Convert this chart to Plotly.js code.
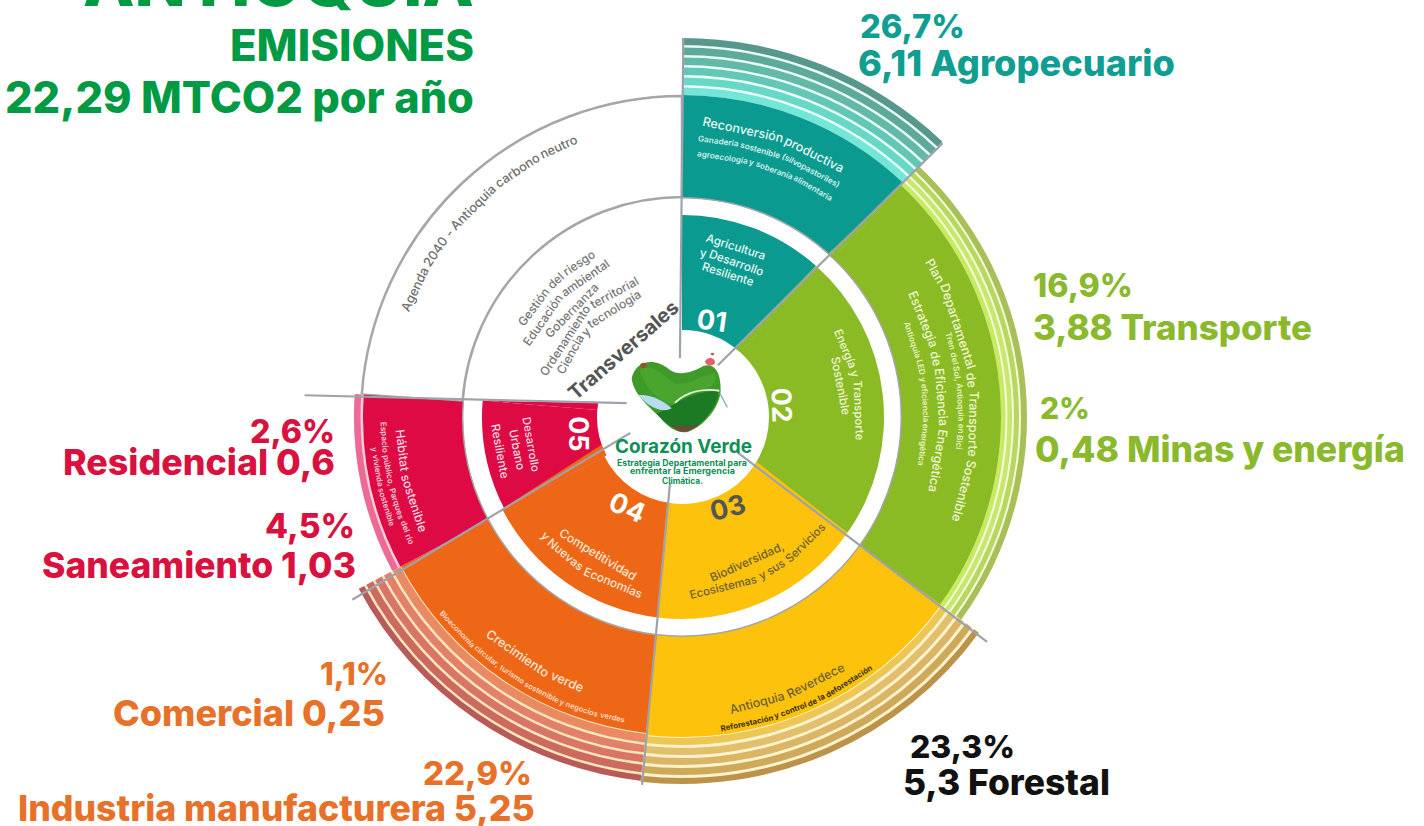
<!DOCTYPE html>
<html><head><meta charset="utf-8">
<script src="https://cdn.plot.ly/plotly-3.0.1.min.js"></script>
<style>html,body{margin:0;padding:0;background:#fff;overflow:hidden}#c{width:1424px;height:826px}</style>
</head><body><div id="c"></div>
<script>
// ---------- data ----------
const sectorNames   = ['Agricultura','Energía y Transporte','Biodiversidad','Competitividad','Desarrollo Urbano','Transversales'];
const sectorColors  = ['#0a9a90','#8aba24','#fdc20b','#ee6717','#dd0a43','#ffffff'];
const outerStart    = [0,43.4,126,186.5,242,274];
const outerEnd      = [43.4,126,186.5,242,274,360];
const innerStart    = [0,41.5,125,187,243,274.7];
const innerEnd      = [41.5,125,187,243,274.7,360];
const innerBase     = [87,87,87,87,85];
const innerTop      = [202,202,202,202,200];
const outerBase     = [219,219,219,219,219];
const outerTop      = [322,319,320,318,319];

const rimTealBase   = [322,332,342,352,362,372];
const rimTealTop    = [329.5,339.5,349.5,359.5,369.5,379];
const rimTealColor  = ['#74e6d8','#68d8c6','#62c8b5','#62b9a7','#5daa9a','#58988c'];
const rimGreenBase  = [319,325.5,332,339];
const rimGreenTop   = [323.5,330,337,345];
const rimGreenColor = ['#c6ea62','#c9e670','#b8d762','#a9bf5a'];
const rimYellowBase = [321,331,341,351,361];
const rimYellowTop  = [328,338,348,358,367];
const rimYellowColor= ['#edc655','#e2bf6c','#d9b565','#cfa95a','#bd934b'];
const rimOrangeBase = [319,330,340,350,360];
const rimOrangeTop  = [327.5,337.5,347.5,357.5,366];
const rimOrangeColor= ['#ea8a62','#e2806a','#d87566','#cc6a60','#b85a58'];
const rimRedBase    = [321.5];
const rimRedTop     = [328];
const rimRedColor   = ['#ee6a94'];

const wedgeColors = ['#8aba24','#8aba24','#fdc20b','#fdc20b','#ee6717','#dd0a43'];
const wedgeR      = [[87,202,87],[219,319,219],[87,202,87],[87,200,87],[85,200,85],[85,200,85]];
const wedgeTheta  = [[41.5,41.5,37.5],[43.4,43.4,41.8],[125,125,121],[187,187,189.8],[243,243,251],[274.7,274.7,279.5]];

const sepR     = [[59,379],[63,378],[65,379],[67,370],[54,377],[57,378]];
const sepTheta = [[-2,0.2],[34.7,43.6],[122.5,126.4],[190.3,186.2],[252.9,241],[284,273.3]];

// big labels: text, x from, x to, baseline, colour
const labelText = ['ANTIOQUIA','EMISIONES','22,29 MTCO2 por año','26,7%','6,11 Agropecuario','16,9%','3,88 Transporte','2%','0,48 Minas y energía','2,6%','Residencial 0,6','4,5%','Saneamiento 1,03','1,1%','Comercial 0,25','22,9%','Industria manufacturera 5,25','23,3%','5,3 Forestal'];
const labelX1 = [83,230,5,860,858,1033,1033,1040,1035,250,63,265,42,320,113,423,18,910,903];
const labelX2 = [474,474,474,965,1175,1133,1312,1090,1405,335,335,355,356,388,385,532,535,1015,1110];
const labelY  = [6,61,113,38,76,297,340,419,462,443,475,538,578,685,726,785,821,758,795];
const labelColor = ['#009a44','#009a44','#009a44','#0f9e91','#0f9e91','#8ab92d','#8ab92d','#8ab92d','#8ab92d','#d8113f','#d8113f','#d8113f','#d8113f','#e8712a','#e8712a','#e8712a','#e8712a','#111111','#111111'];

// curved labels: text, radius, start angle, end angle, colour, weight
const arcText = ['Reconversión productiva','Ganadería sostenible (silvopastoriles)','agroecología y soberanía alimentaria','Agricultura','y Desarrollo','Resiliente',
 'Energía y Transporte','Sostenible','Plan Departamental de Transporte Sostenible','Tren del Sol, Antioquia en Bici','Estrategia de Eficiencia Energética','Antioquia LED y eficiencia energética',
 'Antioquia Reverdece','Reforestación y control de la deforestación','Biodiversidad,','Ecosistemas y sus Servicios',
 'Crecimiento verde','Bioeconomía circular, turismo sostenible y negocios verdes','Competitividad','y Nuevas Economías',
 'Desarrollo','Urbano','Resiliente','Hábitat sostenible','Espacio público, Parques del río','y vivienda sostenible',
 'Agenda 2040 - Antioquia carbono neutro','Gestión del riesgo','Educación ambiental','Gobernanza','Ordenamiento territorial','Ciencia y tecnología','Transversales'];
const arcR = [295,279,264,180,165,151, 178,163,292,279,261,244, 296,313,161,177, 289,309,164,181, 155,169,186,282,298,309, 297,186,171,156,143,129,110];
const arcA = [3.9,3.3,3.2,7.9,6.2,7.5, 60.7,68.5,57.4,72.4,61.5,67, 170.7,173,170,177.4, 222,231,226.7,230, 270,265.6,268,267.4,269,264.3, 291,300,295,301,286.8,289.5,282.6];
const arcB = [33.1,34.1,34.6,27.6,29.4,27.9, 97.4,89.3,110.9,96.8,106.8,101.7, 147,142.8,141.6,127.5, 200,190.7,196,192.6, 249.5,251.7,251,246,244.9,249.4, 339.4,331.8,334.7,327,342,341.6,355];
const arcColor = ['#e6f7f3','#d5f0ea','#d5f0ea','#e6f7f3','#e6f7f3','#e6f7f3',
 '#eef6cf','#eef6cf','#eef6cf','#e6f2c0','#eef6cf','#e6f2c0',
 '#6d6134','#3a3010','#6d6134','#6d6134',
 '#fde6d2','#fbdcc6','#fde6d2','#fde6d2',
 '#fbd8e0','#fbd8e0','#fbd8e0','#fbd8e0','#f8c8d4','#f8c8d4',
 '#6e6e6e','#777777','#777777','#777777','#777777','#777777','#555555'];
const arcWeight = [500,600,600,500,500,500, 500,500,500,600,500,600, 500,700,500,500, 500,600,500,500, 500,500,500,500,600,600, 500,500,500,500,500,500,700];

// section numbers: text, radius, angle, rotation, colour
const numText  = ['01','02','03','04','05'];
const numR     = [101,100,102,106,105];
const numTheta = [17,83,153,211,261];
const numRot   = [8,88,-14,24,90];
const numColor = ['#ffffff','#ffffff','#555555','#ffffff','#ffffff'];

// centre lines: text, x from, x to, baseline, colour
const centerText = ['Corazón Verde','Estrategia Departamental para','enfrentar la Emergencia','Climática.'];
const centerX1 = [615,617,630,662];
const centerX2 = [752,747,735,703];
const centerY  = [453,466,474,484];

// ---------- helpers ----------
const W=1424,H=826,CX=682,CY=417,FONT="Inter, 'Open Sans', sans-serif";
const ctx=document.createElement('canvas').getContext('2d');
function unit(t,w){ctx.font=w+' 100px Inter, "Open Sans", sans-serif';return ctx.measureText(t).width/100;}
const px=x=>x/W, py=y=>1-y/H;
const anns=[];
function put(text,x,y,size,color,weight,rot){
  anns.push({text:text,xref:'paper',yref:'paper',x:px(x),y:py(y),xanchor:'center',yanchor:'middle',showarrow:false,
    textangle:rot||0,borderpad:0,borderwidth:0,font:{family:FONT,size:size,color:color,weight:weight}});
}
labelText.forEach((t,i)=>{
  const s=(labelX2[i]-labelX1[i])/unit(t,800);
  put(t,(labelX1[i]+labelX2[i])/2,labelY[i]-0.36*s,s,labelColor[i],800,0);
});
centerText.forEach((t,i)=>{
  const s=(centerX2[i]-centerX1[i])/unit(t,700);
  put(t,(centerX1[i]+centerX2[i])/2,centerY[i]-0.36*s,s,'#0f8f55',700,0);
});
arcText.forEach((t,i)=>{
  const r=arcR[i],a=arcA[i],b=arcB[i],w=arcWeight[i];
  const L=Math.abs(b-a)*Math.PI/180*r, s=L/unit(t,w);
  const words=t.split(' ');
  const sp=unit(' ',w)*s; let off=0;
  words.forEach(wd=>{
    const wl=unit(wd,w)*s, f=(off+wl/2)/L, th=a+(b-a)*f, rad=th*Math.PI/180;
    const half=wl/2/r, rr=half>0.44?r*Math.cos(half):r*(1+Math.cos(half))/2;
    put(wd,CX+rr*Math.sin(rad),CY-rr*Math.cos(rad),s,arcColor[i],w,b>a?th:th-180);
    off+=wl+sp;
  });
});
numText.forEach((t,i)=>{
  const rad=numTheta[i]*Math.PI/180;
  put(t,CX+numR[i]*Math.sin(rad),CY-numR[i]*Math.cos(rad),27,numColor[i],700,numRot[i]);
});

function bars(thetaStart,thetaEnd,base,top,color,line){
  return {type:'barpolar',hoverinfo:'skip',showlegend:false,
    theta:base.map(()=> (thetaStart+thetaEnd)/2),width:base.map(()=>thetaEnd-thetaStart),
    base:base,r:base.map((b,i)=>top[i]-b),
    marker:{color:color,line:line||{width:0}}};
}
const traces=[];
traces.push(bars(274,360,[220],[321],['#ffffff'],{width:2.5,color:'#a5a6a9'}));
traces.push(bars(outerStart[0],outerEnd[0],[322],[379],['#e8fbf6']));
traces.push(bars(outerStart[0],outerEnd[0],rimTealBase,rimTealTop,rimTealColor));
traces.push(bars(outerStart[1],outerEnd[1],[318],[345],['#f4fbd6']));
traces.push(bars(outerStart[1],outerEnd[1],rimGreenBase,rimGreenTop,rimGreenColor));
traces.push(bars(outerStart[2],outerEnd[2],[319],[367],['#fdf3cd']));
traces.push(bars(outerStart[2],outerEnd[2],rimYellowBase,rimYellowTop,rimYellowColor));
traces.push(bars(outerStart[3],outerEnd[3],[317],[366],['#f9e6bc']));
traces.push(bars(outerStart[3],outerEnd[3],rimOrangeBase,rimOrangeTop,rimOrangeColor));
traces.push(bars(outerStart[4],outerEnd[4],[319],[328],['#f9d0dc']));
traces.push(bars(outerStart[4],outerEnd[4],rimRedBase,rimRedTop,rimRedColor));
for(let i=0;i<5;i++){
  traces.push(bars(outerStart[i],outerEnd[i],[outerBase[i]],[outerTop[i]],[sectorColors[i]]));
  traces.push(bars(innerStart[i],innerEnd[i],[innerBase[i]],[innerTop[i]],[sectorColors[i]]));
  traces.push(bars(outerStart[i],outerEnd[i],[218.5],[220],['#a5a6a9']));
}
wedgeColors.forEach((c,i)=>traces.push({type:'scatterpolar',mode:'lines',fill:'toself',fillcolor:c,hoverinfo:'skip',showlegend:false,
  r:wedgeR[i].concat(wedgeR[i][0]),theta:wedgeTheta[i].concat(wedgeTheta[i][0]),line:{width:0,color:c}}));
sepR.forEach((r,i)=>traces.push({type:'scatterpolar',mode:'lines',hoverinfo:'skip',showlegend:false,
  r:r,theta:sepTheta[i],line:{color:'#9ea3aa',width:2.2}}));

function lp(s){return s.replace(/(-?\d+(?:\.\d+)?),(-?\d+(?:\.\d+)?)/g,(m,a,b)=>px(560+a/3)+','+py(330+b/3));}
function blob(d,fill,line){return {type:'path',xref:'paper',yref:'paper',layer:'above',path:lp(d),fillcolor:fill,line:line||{width:0}};}
const shapes=[
 blob('M215,145 C225,95 280,78 330,120 C360,140 400,125 430,108 C460,98 482,120 482,180 C482,230 430,290 385,305 C360,312 330,300 300,262 C260,225 220,190 215,145 Z','#3f9a2a'),
 blob('M240,120 C270,100 310,130 340,160 C390,170 430,130 465,130 C470,150 460,170 440,175 C400,185 370,200 340,225 C300,210 260,190 240,120 Z','#4aa52e'),
 blob('M290,250 C330,240 370,185 474,183 C480,220 430,285 385,303 C355,308 310,280 290,250 Z','#1c7a24'),
 blob('M330,283 C360,292 400,290 420,278 C405,298 375,310 355,303 Z','#6b4a3a'),
 blob('M235,195 C270,192 312,212 335,235 C310,250 268,235 235,195 Z','#b8dcef'),
 blob('M345,218 C380,185 430,175 478,182','rgba(0,0,0,0)',{color:'#e6f3e0',width:2}),
 blob('M480,190 L502,232','rgba(0,0,0,0)',{color:'#8fb7c8',width:1.5}),
 blob('M240,105 C245,95 262,97 260,108 C256,118 242,116 240,105 Z','#8a5a2a'),
 blob('M435,95 C440,80 465,80 465,98 C460,110 438,108 435,95 Z','#e2606a'),
 blob('M452,70 C456,66 464,68 462,74 C458,78 452,76 452,70 Z','#d8434f'),
];

Plotly.newPlot('c',traces,{
  width:W,height:H,margin:{l:0,r:0,t:0,b:0},paper_bgcolor:'#ffffff',showlegend:false,
  polar:{domain:{x:[(CX-400)/W,(CX+400)/W],y:[(H-CY-400)/H,(H-CY+400)/H]},bgcolor:'rgba(0,0,0,0)',
    barmode:'overlay',bargap:0,
    angularaxis:{direction:'clockwise',rotation:90,visible:false},
    radialaxis:{range:[0,400],visible:false}},
  annotations:anns,shapes:shapes
},{displayModeBar:false,staticPlot:true});
</script></body></html>
